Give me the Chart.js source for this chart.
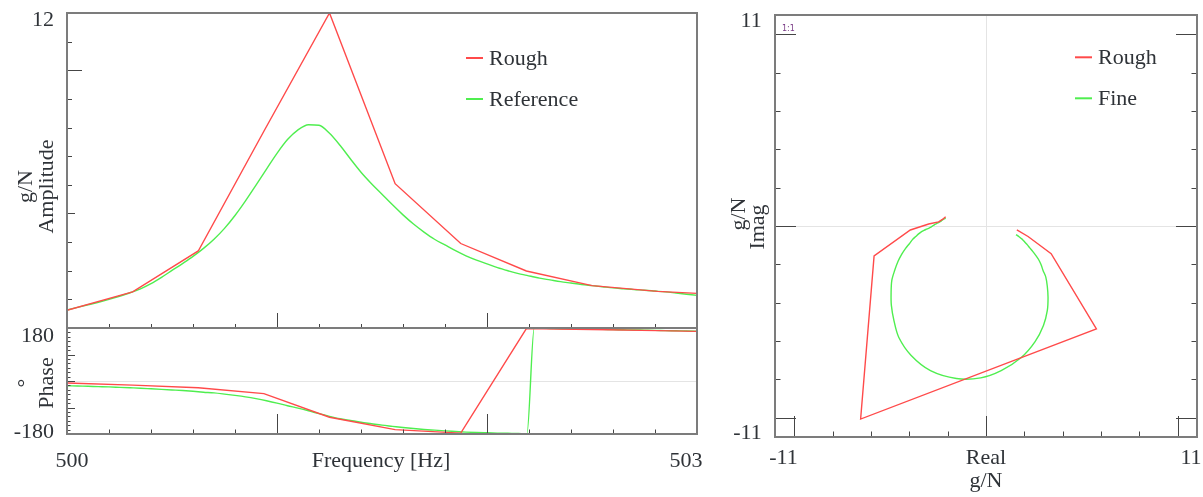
<!DOCTYPE html>
<html>
<head>
<meta charset="utf-8">
<script src="https://cdn.jsdelivr.net/npm/chart.js@4"></script>
<style>
  body { margin: 0; background: #fff; }
  .wrap { position: relative; width: 1203px; height: 497px; overflow: hidden; }
  canvas { position: absolute; }
</style>
</head>
<body>
<div class="wrap">
  <canvas id="amp" width="720" height="340" style="left:0px;top:0px"></canvas>
  <canvas id="phase" width="720" height="177" style="left:0px;top:320px"></canvas>
  <canvas id="nyq" width="488" height="497" style="left:715px;top:0px"></canvas>
</div>
<script>
// rough sweep, 0.3125 Hz steps
var roughFreq = [500, 500.3125, 500.625, 500.9375, 501.25, 501.5625, 501.875, 502.1875, 502.5, 502.8125, 503.125];
var roughAmp = [1.62, 2.26, 3.69, 7.87, 12.0, 6.04, 3.95, 2.99, 2.48, 2.28, 2.16];
var roughPhase = [-7, -14, -23, -43, -123, -165, -177, 178, 175, 171, 167];

// fine (reference) sweep
var fineFreq = [
    500.00, 500.05, 500.10, 500.15, 500.20, 500.25, 500.30, 500.35, 500.40, 500.45,
    500.50, 500.55, 500.60, 500.65, 500.70, 500.75, 500.80, 500.85, 500.90, 500.95,
    501.00, 501.05, 501.10, 501.15, 501.20, 501.25, 501.30, 501.35, 501.40, 501.45,
    501.50, 501.55, 501.60, 501.65, 501.70, 501.75, 501.80, 501.85, 501.90, 501.95,
    502.00, 502.05, 502.10, 502.15, 502.19, 502.225, 502.25, 502.30, 502.35, 502.40,
    502.45, 502.50, 502.55, 502.60, 502.65, 502.70, 502.75, 502.80, 502.85, 502.90,
    502.95, 503.00
];
var fineAmp = [
    1.63, 1.72, 1.81, 1.90, 2.00, 2.11, 2.23, 2.37, 2.55, 2.77,
    3.01, 3.25, 3.50, 3.78, 4.10, 4.48, 4.93, 5.44, 5.99, 6.55,
    7.10, 7.58, 7.92, 8.10, 8.08, 7.80, 7.38, 6.90, 6.44, 6.04,
    5.67, 5.30, 4.95, 4.63, 4.35, 4.10, 3.90, 3.70, 3.52, 3.37,
    3.24, 3.11, 3.00, 2.90, 2.84, 2.78, 2.74, 2.68, 2.62, 2.57,
    2.52, 2.48, 2.44, 2.40, 2.37, 2.34, 2.32, 2.29, 2.26, 2.22,
    2.18, 2.14
];
var finePhase = [
    -16, -17, -18, -19, -20, -21.5, -23, -24.5, -26.5, -28.5,
    -30.5, -32.5, -35, -38, -40.5, -44.5, -49, -54, -60, -67,
    -75, -84, -92, -101, -111, -120, -128, -134, -140, -145,
    -150, -154, -158, -161.5, -164.5, -167, -169.5, -171.5, -173.5, -175,
    -176, -176.9, -177.7, -178.5, -179.2, 179.8, 179.3, 178.5, 177.7, 177.0,
    176.4, 175.8, 175.2, 174.6, 174.0, 173.4, 172.7, 172.0, 171.2, 170.5,
    169.7, 169
];

var colors = {
    rough: '#ff4a4a',
    fine: '#4fee4f',
    frame: '#7c7c7c',
    tick: '#454545',
    zero: '#e4e4e4',
    text: '#2f3338',
    ratio: '#7a3b86'
};
var serif = '22px "Liberation Serif", "Times New Roman", serif';

function points(xs, ys) {
    return xs.map(function (x, i) { return {x: x, y: ys[i]}; });
}

// amplitude + phase -> real/imag pairs
function complexPoints(amp, phase) {
    return amp.map(function (a, i) {
        var rad = phase[i] * Math.PI / 180;
        return {x: a * Math.cos(rad), y: a * Math.sin(rad)};
    });
}

function steps(from, to, step) {
    var out = [];
    for (var i = 0; from + i * step <= to + 1e-9; i++) {
        out.push(+(from + i * step).toFixed(6));
    }
    return out;
}

function near(v, m) {
    var r = v / m;
    return Math.abs(r - Math.round(r)) < 1e-6;
}

// frame, inward ticks, edge labels and legend
function panelPlugin(cfg) {
    return {
        id: 'panel',
        beforeDatasetsDraw: function (chart) {
            var ctx = chart.ctx, a = chart.chartArea;
            var x = chart.scales.x, y = chart.scales.y;
            ctx.save();
            ctx.strokeStyle = colors.zero;
            ctx.lineWidth = 1;
            ctx.beginPath();
            if (cfg.zeroY) {
                var py = Math.round(y.getPixelForValue(0)) + 0.5;
                ctx.moveTo(a.left, py);
                ctx.lineTo(a.right, py);
            }
            if (cfg.zeroX) {
                var px = Math.round(x.getPixelForValue(0)) + 0.5;
                ctx.moveTo(px, a.top);
                ctx.lineTo(px, a.bottom);
            }
            ctx.stroke();
            ctx.restore();
        },
        afterDraw: function (chart) {
            var ctx = chart.ctx, a = chart.chartArea;
            var x = chart.scales.x, y = chart.scales.y;
            ctx.save();

            ctx.strokeStyle = colors.tick;
            ctx.lineWidth = 1;
            ctx.beginPath();
            cfg.xTicks.forEach(function (v) {
                var px = Math.round(x.getPixelForValue(v)) + 0.5;
                ctx.moveTo(px, a.bottom);
                ctx.lineTo(px, a.bottom - cfg.xLen(v));
            });
            cfg.yTicks.forEach(function (v) {
                var py = Math.round(y.getPixelForValue(v)) + 0.5;
                ctx.moveTo(a.left, py);
                ctx.lineTo(a.left + cfg.yLen(v), py);
                if (cfg.rightTicks) {
                    ctx.moveTo(a.right, py);
                    ctx.lineTo(a.right - cfg.yLen(v), py);
                }
            });
            ctx.stroke();

            ctx.strokeStyle = colors.frame;
            ctx.lineWidth = 2;
            ctx.strokeRect(a.left, a.top, a.right - a.left, a.bottom - a.top);

            ctx.fillStyle = colors.text;
            ctx.textBaseline = 'alphabetic';
            cfg.labels(a).forEach(function (l) {
                ctx.save();
                ctx.font = l.font || serif;
                ctx.fillStyle = l.color || colors.text;
                ctx.textAlign = l.align || 'center';
                ctx.translate(l.x, l.y);
                if (l.rotate) ctx.rotate(-Math.PI / 2);
                ctx.fillText(l.text, 0, 0);
                ctx.restore();
            });

            if (cfg.legend) {
                ctx.font = serif;
                ctx.textAlign = 'left';
                chart.data.datasets.forEach(function (ds, i) {
                    var lx = a.left + cfg.legend.x;
                    var ly = a.top + cfg.legend.y + i * 41;
                    ctx.strokeStyle = ds.borderColor;
                    ctx.lineWidth = 2;
                    ctx.beginPath();
                    ctx.moveTo(lx, ly);
                    ctx.lineTo(lx + 17, ly);
                    ctx.stroke();
                    ctx.fillStyle = colors.text;
                    ctx.fillText(ds.label, lx + 23, ly + 6.5);
                });
            }
            ctx.restore();
        }
    };
}

function lineSet(label, color, data, smooth) {
    var ds = {
        label: label,
        data: data,
        borderColor: color,
        borderWidth: 1.4,
        pointRadius: 0,
        tension: 0
    };
    if (smooth === 'monotone') ds.cubicInterpolationMode = 'monotone';
    else if (smooth) ds.tension = smooth;
    return ds;
}

function baseOptions(padding, xMin, xMax, yMin, yMax) {
    return {
        responsive: false,
        animation: false,
        devicePixelRatio: 1,
        events: [],
        layout: {padding: padding},
        scales: {
            x: {type: 'linear', min: xMin, max: xMax, display: false},
            y: {type: 'linear', min: yMin, max: yMax, display: false}
        },
        plugins: {
            legend: {display: false},
            tooltip: {enabled: false}
        }
    };
}

var freqTicks = steps(500.2, 502.8, 0.2);

// amplitude
new Chart(document.getElementById('amp'), {
    type: 'line',
    data: {
        datasets: [
            lineSet('Rough', colors.rough, points(roughFreq, roughAmp)),
            lineSet('Reference', colors.fine, points(fineFreq, fineAmp), 'monotone')
        ]
    },
    options: baseOptions({left: 67, top: 13, right: 23, bottom: 12}, 500, 503, 1, 12),
    plugins: [panelPlugin({
        xTicks: freqTicks,
        xLen: function (v) { return near(v, 1) ? 15 : 4; },
        yTicks: steps(2, 11, 1),
        yLen: function (v) { return near(v, 10) ? 15 : (near(v, 5) ? 8 : 5); },
        legend: {x: 399, y: 45},
        labels: function (a) {
            var mid = (a.top + a.bottom) / 2 + 16;
            return [
                {text: '12', x: a.left - 13, y: a.top + 12.5, align: 'right'},
                {text: 'g/N', x: a.left - 35.5, y: mid, rotate: true},
                {text: 'Amplitude', x: a.left - 14, y: mid, rotate: true}
            ];
        }
    })]
});

// phase
new Chart(document.getElementById('phase'), {
    type: 'line',
    data: {
        datasets: [
            lineSet('Rough', colors.rough, points(roughFreq, roughPhase)),
            lineSet('Reference', colors.fine, points(fineFreq, finePhase), 'monotone')
        ]
    },
    options: baseOptions({left: 67, top: 8, right: 23, bottom: 63}, 500, 503, -180, 180),
    plugins: [panelPlugin({
        zeroY: true,
        xTicks: freqTicks,
        xLen: function (v) { return near(v, 1) ? 20 : 4.5; },
        yTicks: steps(-165, 165, 15),
        yLen: function (v) { return near(v, 90) ? 8 : 3.5; },
        labels: function (a) {
            var mid = (a.top + a.bottom) / 2 + 2;
            var base = a.bottom + 32.5;
            return [
                {text: '180', x: a.left - 13, y: a.top + 14, align: 'right'},
                {text: '-180', x: a.left - 13, y: a.bottom + 4, align: 'right'},
                {text: '°', x: a.left - 35.5, y: mid, rotate: true},
                {text: 'Phase', x: a.left - 14, y: mid, rotate: true},
                {text: '500', x: a.left + 5, y: base},
                {text: '503', x: a.right - 11, y: base},
                {text: 'Frequency [Hz]', x: (a.left + a.right) / 2 - 1, y: base}
            ];
        }
    })]
});

// real / imaginary
new Chart(document.getElementById('nyq'), {
    type: 'line',
    data: {
        datasets: [
            lineSet('Rough', colors.rough, complexPoints(roughAmp, roughPhase)),
            lineSet('Fine', colors.fine, complexPoints(fineAmp, finePhase), 0.3)
        ]
    },
    options: baseOptions({left: 60, top: 15, right: 6, bottom: 60}, -11, 11, -11, 11),
    plugins: [panelPlugin({
        zeroX: true,
        zeroY: true,
        rightTicks: true,
        xTicks: steps(-10, 10, 2),
        xLen: function (v) { return near(v, 10) ? 21 : 5.5; },
        yTicks: steps(-10, 10, 2),
        yLen: function (v) { return near(v, 10) ? 21 : 5.5; },
        legend: {x: 300, y: 42.3},
        labels: function (a) {
            var mid = (a.top + a.bottom) / 2;
            return [
                {text: '11', x: a.left - 13.3, y: a.top + 11.7, align: 'right'},
                {text: '-11', x: a.left - 13.3, y: a.bottom + 1.5, align: 'right'},
                {text: '-11', x: a.left + 8.5, y: a.bottom + 27},
                {text: '11', x: a.right - 6, y: a.bottom + 27},
                {text: 'Real', x: (a.left + a.right) / 2, y: a.bottom + 27},
                {text: 'g/N', x: (a.left + a.right) / 2, y: a.bottom + 50},
                {text: 'g/N', x: a.left - 30, y: mid - 12, rotate: true},
                {text: 'Imag', x: a.left - 11, y: mid + 1, rotate: true},
                {text: '1:1', x: a.left + 7, y: a.top + 16, align: 'left',
                    font: '8px "DejaVu Sans", sans-serif', color: colors.ratio}
            ];
        }
    })]
});
</script>
</body>
</html>
